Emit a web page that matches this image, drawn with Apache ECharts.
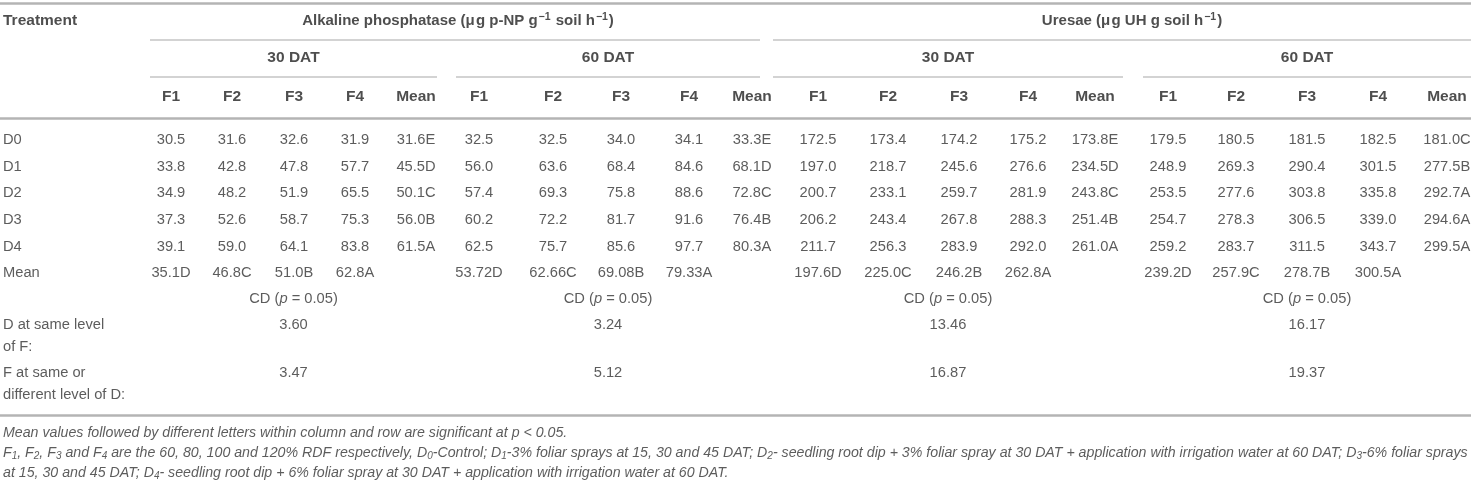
<!DOCTYPE html>
<html>
<head>
    <meta charset="UTF-8">
    <title>echarts-酶活性表格</title>
    <script src="https://cdn.jsdelivr.net/npm/echarts@6/dist/echarts.min.js"></script>
    <style>
        html, body { margin: 0; padding: 0; background: #fff; }
        #tableBox { width: 1471px; height: 482px; }
    </style>
</head>
<body>
    <div id="tableBox"></div>

    <script>
        // ---- table content ----
        var treatments = ['D0', 'D1', 'D2', 'D3', 'D4', 'Mean'];
        var subCols = ['F1', 'F2', 'F3', 'F4', 'Mean'];
        var enzymeTitles = [
            'Alkaline phosphatase (μ\u200Ag p-NP g{sup|−1} soil h{sup|−1})',
            'Uresae (μ\u200Ag UH g soil h{sup|−1})'
        ];
        var datTitles = ['30 DAT', '60 DAT', '30 DAT', '60 DAT'];

        var alk30 = [
            ['30.5', '31.6', '32.6', '31.9', '31.6E'],
            ['33.8', '42.8', '47.8', '57.7', '45.5D'],
            ['34.9', '48.2', '51.9', '65.5', '50.1C'],
            ['37.3', '52.6', '58.7', '75.3', '56.0B'],
            ['39.1', '59.0', '64.1', '83.8', '61.5A'],
            ['35.1D', '46.8C', '51.0B', '62.8A', '']
        ];
        var alk60 = [
            ['32.5', '32.5', '34.0', '34.1', '33.3E'],
            ['56.0', '63.6', '68.4', '84.6', '68.1D'],
            ['57.4', '69.3', '75.8', '88.6', '72.8C'],
            ['60.2', '72.2', '81.7', '91.6', '76.4B'],
            ['62.5', '75.7', '85.6', '97.7', '80.3A'],
            ['53.72D', '62.66C', '69.08B', '79.33A', '']
        ];
        var ure30 = [
            ['172.5', '173.4', '174.2', '175.2', '173.8E'],
            ['197.0', '218.7', '245.6', '276.6', '234.5D'],
            ['200.7', '233.1', '259.7', '281.9', '243.8C'],
            ['206.2', '243.4', '267.8', '288.3', '251.4B'],
            ['211.7', '256.3', '283.9', '292.0', '261.0A'],
            ['197.6D', '225.0C', '246.2B', '262.8A', '']
        ];
        var ure60 = [
            ['179.5', '180.5', '181.5', '182.5', '181.0C'],
            ['248.9', '269.3', '290.4', '301.5', '277.5B'],
            ['253.5', '277.6', '303.8', '335.8', '292.7A'],
            ['254.7', '278.3', '306.5', '339.0', '294.6A'],
            ['259.2', '283.7', '311.5', '343.7', '299.5A'],
            ['239.2D', '257.9C', '278.7B', '300.5A', '']
        ];
        var cdLabel = 'CD ({it|p} = 0.05)';
        var cdRowNames = [['D at same level', 'of F:'], ['F at same or', 'different level of D:']];
        var cdDSameF = ['3.60', '3.24', '13.46', '16.17'];
        var cdFSameD = ['3.47', '5.12', '16.87', '19.37'];

        var footnotes = [
            'Mean values followed by different letters within column and row are significant at p < 0.05.',
            'F{s|1}, F{s|2}, F{s|3} and F{s|4} are the 60, 80, 100 and 120% RDF respectively, D{s|0}-Control; D{s|1}-3% foliar sprays at 15, 30 and 45 DAT; D{s|2}- seedling root dip + 3% foliar spray at 30 DAT + application with irrigation water at 60 DAT; D{s|3}-6% foliar sprays',
            'at 15, 30 and 45 DAT; D{s|4}- seedling root dip + 6% foliar spray at 30 DAT + application with irrigation water at 60 DAT.'
        ];

        // ---- layout (pixel units of the hidden axes) ----
        var W = 1471, H = 482;
        var leftX = 3;
        var colX = [171, 232, 294, 355, 416, 479, 553, 621, 689, 752,
                    818, 888, 959, 1028, 1095, 1168, 1236, 1307, 1378, 1447];
        var enzymeSpan = [[150, 760], [773, W]];
        var enzymeTitleX = [458, 1132];
        var datSpan = [[150, 437], [456, 760], [773, 1123], [1143, W]];
        var headY = [21, 58, 97];
        var rowY = [140, 167, 193, 220, 247, 273];
        var cdY = 299;
        var cdRowY = [[325, 347], [373, 395]];
        var noteY = [433, 453, 473];

        var FONT = "'Liberation Sans', Arial, Helvetica, sans-serif";
        var TXT = '#333';
        var HEAD = '#222';

        var rich = {
            sup: { fontFamily: FONT, fontSize: 10.5, verticalAlign: 'top', color: HEAD, fontWeight: 'bold', padding: [0, 1, 0, 1] },
            it: { fontFamily: FONT, fontSize: 14.7, fontStyle: 'italic', color: TXT },
            s: { fontFamily: FONT, fontSize: 10, fontStyle: 'italic', verticalAlign: 'bottom', color: TXT }
        };

        function cell(x, y, text, extra) {
            var label = {
                formatter: text,
                align: 'center'
            };
            for (var k in extra) label[k] = extra[k];
            return { value: [x, y], label: label };
        }

        var cells = [];
        var bold = { fontWeight: 'bold', color: HEAD, fontSize: 15.5, lineHeight: 19 };
        var boldLeft = { fontWeight: 'bold', color: HEAD, fontSize: 15.5, align: 'left' };
        var titleStyle = { fontWeight: 'bold', color: HEAD, fontSize: 15, lineHeight: 19 };

        // header
        cells.push(cell(leftX, headY[0], 'Treatment', boldLeft));
        enzymeTitles.forEach(function (t, i) {
            cells.push(cell(enzymeTitleX[i], headY[0], t, titleStyle));
        });
        datTitles.forEach(function (t, i) {
            var s = datSpan[i];
            cells.push(cell((s[0] + s[1]) / 2, headY[1], t, bold));
        });
        colX.forEach(function (x, j) {
            cells.push(cell(x, headY[2], subCols[j % 5], bold));
        });

        // body
        var blocks = [alk30, alk60, ure30, ure60];
        treatments.forEach(function (name, i) {
            cells.push(cell(leftX, rowY[i], name, { align: 'left' }));
            blocks.forEach(function (b, bi) {
                b[i].forEach(function (v, j) {
                    if (v) cells.push(cell(colX[bi * 5 + j], rowY[i], v, {}));
                });
            });
        });

        // CD rows
        datSpan.forEach(function (s, i) {
            var cx = (s[0] + s[1]) / 2;
            cells.push(cell(cx, cdY, cdLabel, {}));
            cells.push(cell(cx, cdRowY[0][0], cdDSameF[i], {}));
            cells.push(cell(cx, cdRowY[1][0], cdFSameD[i], {}));
        });
        cdRowNames.forEach(function (lines, i) {
            lines.forEach(function (t, k) {
                cells.push(cell(leftX, cdRowY[i][k], t, { align: 'left' }));
            });
        });

        // footnotes
        footnotes.forEach(function (t, i) {
            cells.push(cell(leftX, noteY[i], t, { align: 'left', fontStyle: 'italic', fontSize: 14.2 }));
        });

        // rules
        var heavy = { color: '#b4b4b4', width: 2.5, type: 'solid' };
        var light = { color: '#c4c4c4', width: 1.5, type: 'solid' };
        var rules = [
            [0, W, 3, heavy],
            [enzymeSpan[0][0], enzymeSpan[0][1], 40, light],
            [enzymeSpan[1][0], enzymeSpan[1][1], 40, light],
            [datSpan[0][0], datSpan[0][1], 77, light],
            [datSpan[1][0], datSpan[1][1], 77, light],
            [datSpan[2][0], datSpan[2][1], 77, light],
            [datSpan[3][0], datSpan[3][1], 77, light],
            [0, W, 118, heavy],
            [0, W, 415, heavy]
        ];

        var myChart = echarts.init(document.getElementById('tableBox'));
        var option = {
            backgroundColor: '#fff',
            animation: false,
            grid: { left: 0, right: 0, top: 0, bottom: 0 },
            xAxis: { type: 'value', min: 0, max: W, show: false },
            yAxis: { type: 'value', min: 0, max: H, inverse: true, show: false },
            series: [{
                type: 'scatter',
                symbolSize: 0,
                silent: true,
                clip: false,
                label: {
                    show: true,
                    position: 'inside',
                    fontFamily: FONT,
                    fontSize: 14.7,
                    lineHeight: 17,
                    color: TXT,
                    rich: rich
                },
                data: cells,
                markLine: {
                    silent: true,
                    symbol: ['none', 'none'],
                    label: { show: false },
                    data: rules.map(function (r) {
                        return [{ coord: [r[0], r[2]], lineStyle: r[3] }, { coord: [r[1], r[2]] }];
                    })
                }
            }]
        };
        myChart.setOption(option);
    </script>
</body>
</html>
